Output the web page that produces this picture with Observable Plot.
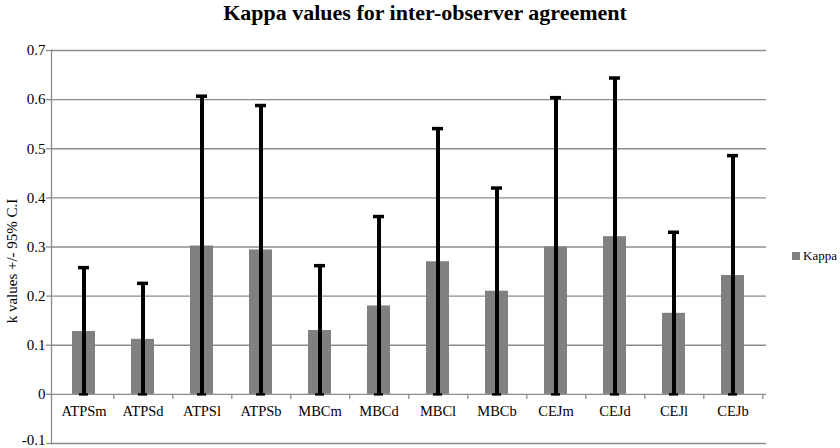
<!DOCTYPE html>
<html>
<head>
<meta charset="utf-8">
<script src="https://cdn.jsdelivr.net/npm/d3@7"></script>
<script src="https://cdn.jsdelivr.net/npm/@observablehq/plot@0.6"></script>
<style>
  html, body { margin: 0; padding: 0; background: #fff; }
  #wrap { position: relative; width: 840px; height: 448px; font-family: "Liberation Serif", "Times New Roman", serif; }
  #title { position: absolute; top: 1px; left: 5px; width: 840px; text-align: center; font-weight: bold; font-size: 22px; line-height: 24px; color: #000; }
  #ylab { position: absolute; left: 12px; top: 261px; transform: translate(-50%, -50%) rotate(-90deg); white-space: nowrap; font-size: 15px; color: #000; }
  #legend { position: absolute; left: 792px; top: 248px; font-size: 13px; color: #000; white-space: nowrap; display: flex; align-items: center; }
  #legend .sw { display: inline-block; width: 8px; height: 8px; background: #808080; margin-right: 3px; }
  svg { position: absolute; top: 0; left: 0; }
</style>
</head>
<body>
<div id="wrap">
  <div id="title">Kappa values for inter-observer agreement</div>
  <div id="ylab">k values +/- 95% C.I</div>
  <div id="legend"><span class="sw"></span><span>Kappa</span></div>
</div>
<script>
const categories = ["ATPSm","ATPSd","ATPSl","ATPSb","MBCm","MBCd","MBCl","MBCb","CEJm","CEJd","CEJl","CEJb"];
const kappa = [0.128, 0.112, 0.302, 0.294, 0.130, 0.180, 0.270, 0.210, 0.300, 0.321, 0.165, 0.242];
const upperCI = [0.258, 0.226, 0.607, 0.588, 0.262, 0.362, 0.541, 0.420, 0.604, 0.644, 0.330, 0.486];
const yTicks = [-0.1, 0, 0.1, 0.2, 0.3, 0.4, 0.5, 0.6, 0.7];

const data = categories.map((c, i) => ({cat: c, k: kappa[i], hi: upperCI[i]}));

const W = 840, H = 448, mL = 51, mR = 74, mT = 50, mB = 5;
const step = (W - mL - mR) / categories.length;
const font = '"Liberation Serif", "Times New Roman", serif';
const fmt = d => d === 0 ? "0" : d.toFixed(1);

const chart = Plot.plot({
  width: W,
  height: H,
  marginLeft: mL,
  marginRight: mR,
  marginTop: mT,
  marginBottom: mB,
  style: {fontFamily: font, fontSize: "15px", color: "#000", background: "transparent", overflow: "visible"},
  x: {domain: categories, paddingInner: 0.61, paddingOuter: 0.305, axis: null},
  y: {domain: [-0.1, 0.7], axis: null},
  marks: [
    Plot.gridY(yTicks, {stroke: "#8c8c8c", strokeOpacity: 1, strokeWidth: 1.3}),
    Plot.frame({anchor: "left", stroke: "#8c8c8c", strokeWidth: 1.3}),
    Plot.axisY(yTicks, {
      tickSize: 5, tickPadding: 5, stroke: "#8c8c8c", strokeWidth: 1.3,
      tickFormat: fmt, text: null, label: null
    }),
    Plot.text(yTicks.filter(d => d > -0.1), {frameAnchor: "left", y: d => d, text: fmt, textAnchor: "end", dx: -6, fontSize: 15, fill: "#000"}),
    Plot.text(yTicks.filter(d => d === -0.1), {frameAnchor: "left", y: d => d, text: fmt, textAnchor: "end", dx: -6, dy: -3, fontSize: 15, fill: "#000"}),
    Plot.ruleX(categories, {x: d => d, dx: step / 2, y1: 0, y2: -0.0105, stroke: "#8c8c8c", strokeWidth: 1.3}),
    Plot.barY(data, {x: "cat", y: "k", fill: "#808080"}),
    Plot.ruleX(data, {x: "cat", y1: 0, y2: "hi", stroke: "#000", strokeWidth: 4}),
    Plot.tickY(data, {x: "cat", y: "hi", stroke: "#000", strokeWidth: 3.5, insetLeft: 6, insetRight: 6}),
    Plot.tickY(data, {x: "cat", y: 0, stroke: "#000", strokeWidth: 2.5, insetLeft: 7, insetRight: 7}),
    Plot.text(categories, {x: d => d, y: 0, dy: 17, text: d => d, fontSize: 14.5, fill: "#000"})
  ]
});
document.getElementById("wrap").appendChild(chart);
</script>
</body>
</html>
